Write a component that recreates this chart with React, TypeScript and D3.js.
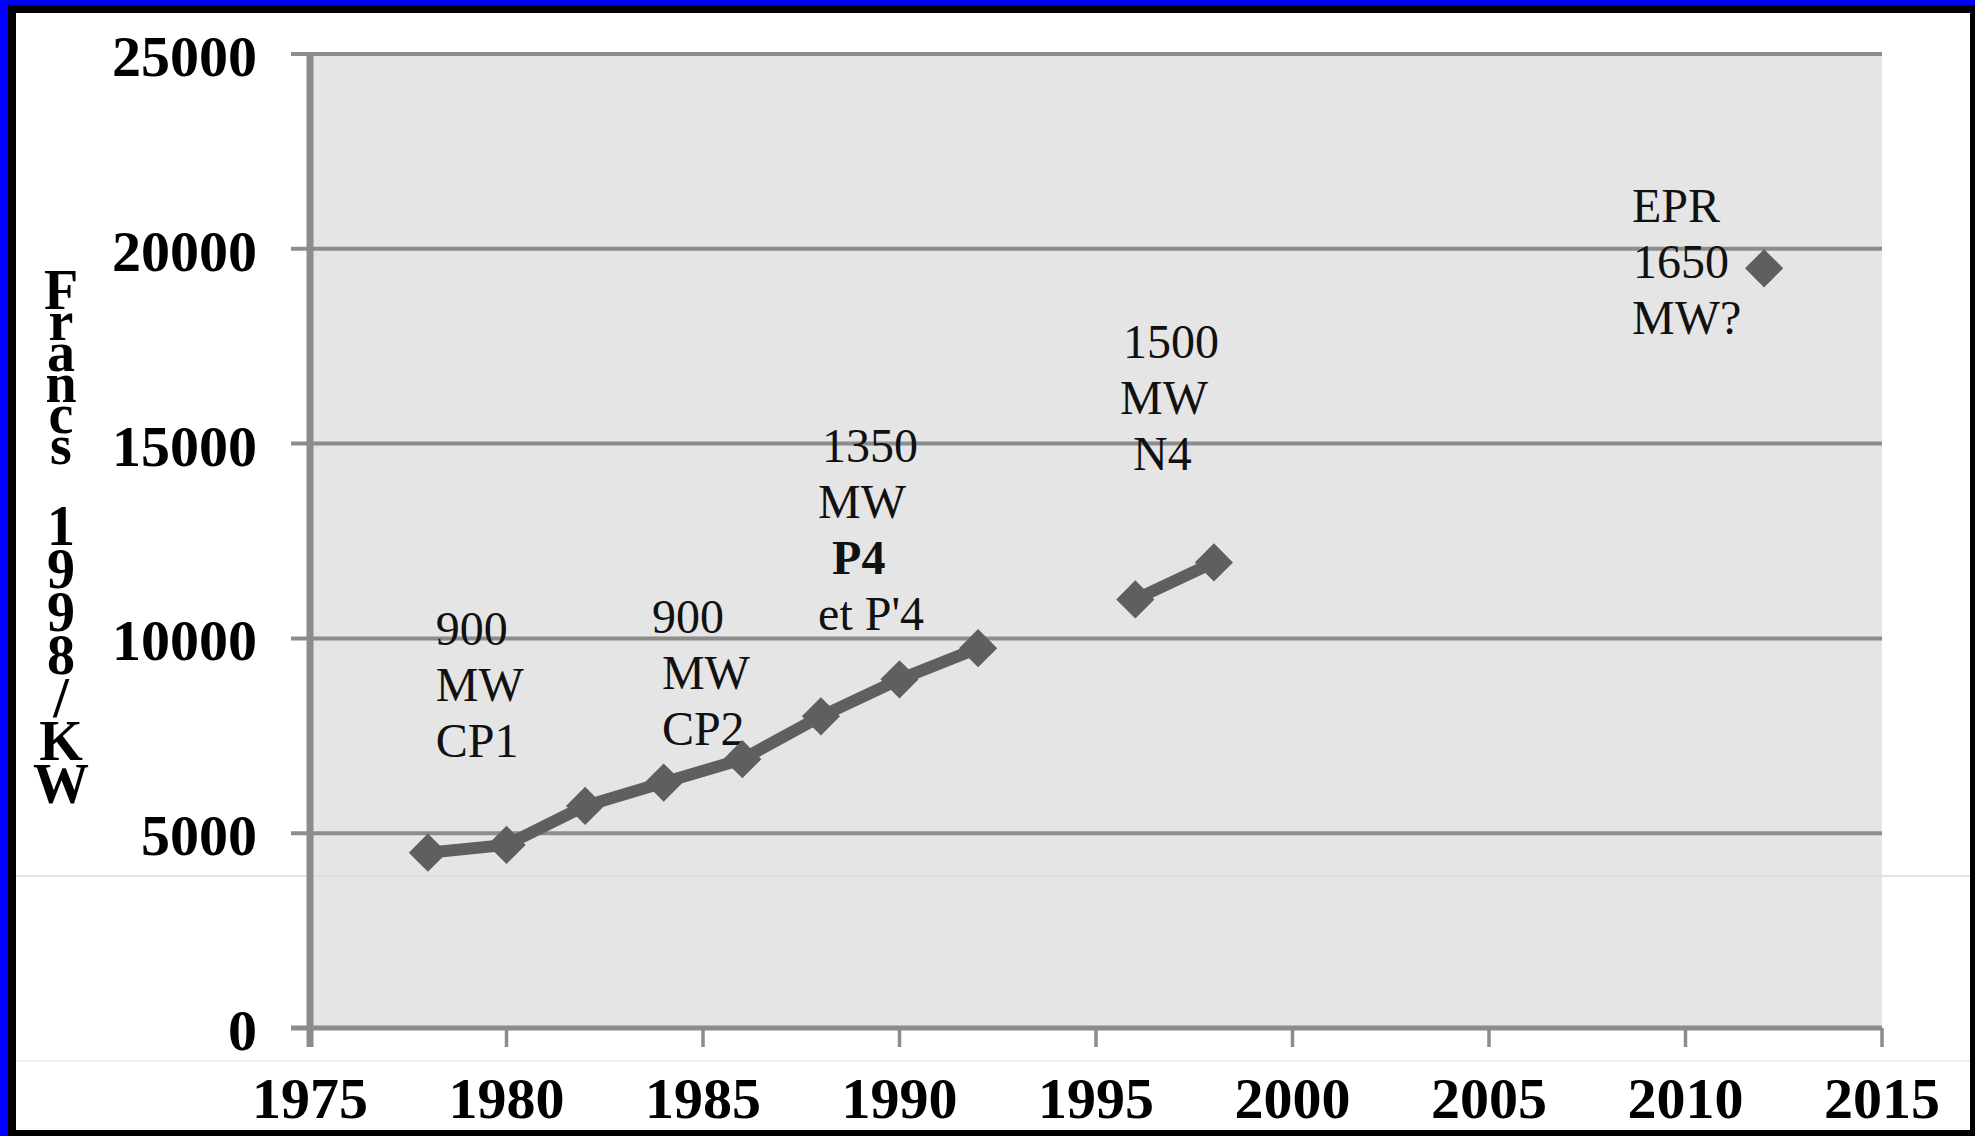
import React from "react";
import * as d3 from "d3";

const years = [1978, 1980, 1982, 1984, 1986, 1988, 1990, 1992, 1994, 1996, 1998, 2000, 2012];
const costs: (number | null)[] = [4500, 4700, 5700, 6300, 6900, 8000, 8950, 9750, null, 11000, 11950, null, 19500];
const yTicks = [0, 5000, 10000, 15000, 20000, 25000];
const xTicks = [1975, 1980, 1985, 1990, 1995, 2000, 2005, 2010, 2015];
const yTitle = "Francs 1998/KW";

type Line = { t: string; dx: number; bold?: boolean };
const annotations: { year: number; value: number; lines: Line[] }[] = [
  { year: 1978.2, value: 9830, lines: [{ t: "900", dx: 0 }, { t: "MW", dx: 0 }, { t: "CP1", dx: 0 }] },
  { year: 1983.7, value: 10140, lines: [{ t: "900", dx: 0 }, { t: "MW", dx: 10 }, { t: "CP2", dx: 10 }] },
  { year: 1988.03, value: 14530, lines: [{ t: "1350", dx: 0 }, { t: "MW", dx: -4 }, { t: "P4", dx: 10, bold: true }, { t: "et P'4", dx: -4 }] },
  { year: 1995.69, value: 17200, lines: [{ t: "1500", dx: 0 }, { t: "MW", dx: -3 }, { t: "N4", dx: 10 }] },
  { year: 2008.64, value: 20690, lines: [{ t: "EPR", dx: 0 }, { t: "1650", dx: 1 }, { t: "MW?", dx: 0 }] },
];

const W = 1975;
const H = 1136;
const serif = "'Liberation Serif', 'Times New Roman', serif";

export default function App() {
  const x = d3.scaleLinear().domain([1975, 2015]).range([310, 1882]);
  const y = d3.scaleLinear().domain([0, 25000]).range([1028, 54]);
  const data = years.map((yr, i) => ({ yr, v: costs[i] }));
  const line = d3
    .line<{ yr: number; v: number | null }>()
    .defined((d) => d.v != null)
    .x((d) => x(d.yr))
    .y((d) => y(d.v as number));
  const diamond = d3.symbol().type(d3.symbolSquare).size(730)();
  const gridColor = "#8c8c8c";

  // y title layout: stacked chars
  let cy = 309;
  const titleChars: { c: string; y: number }[] = [];
  yTitle.split("").forEach((c, i) => {
    if (i > 0) {
      if (c === " ") { cy += 38; return; }
      cy += /[a-z]/.test(c) ? 31 : 43;
    }
    titleChars.push({ c, y: cy });
  });

  return (
    <svg width={W} height={H} style={{ position: "absolute", left: 0, top: 0, display: "block" }}>
      <rect x={0} y={0} width={W} height={H} fill="#0000ff" />
      <rect x={8} y={5} width={W - 8} height={H - 5} fill="#000" />
      <rect x={16} y={13} width={1954} height={1117} fill="#fff" />
      <line x1={16} x2={1970} y1={1061} y2={1061} stroke="#e4e4fa" strokeWidth={1.5} />
      <rect x={x(1975)} y={y(25000)} width={x(2015) - x(1975)} height={y(0) - y(25000)} fill="#e5e5e5" />
      <line x1={16} x2={1970} y1={876} y2={876} stroke="#d9d8ee" strokeWidth={1.5} />
      {yTicks.filter((t) => t > 0).map((t) => (
        <line key={"g" + t} x1={291} x2={x(2015)} y1={y(t)} y2={y(t)} stroke={gridColor} strokeWidth={4} />
      ))}
      <line x1={291} x2={x(2015)} y1={y(0)} y2={y(0)} stroke={gridColor} strokeWidth={5} />
      <line x1={x(1975)} x2={x(1975)} y1={y(25000)} y2={1047} stroke={gridColor} strokeWidth={7} />
      {xTicks.map((t) => (
        <line key={"xt" + t} x1={x(t)} x2={x(t)} y1={y(0)} y2={1047} stroke={gridColor} strokeWidth={3.5} />
      ))}
      {yTicks.map((t) => (
        <text key={"yl" + t} x={257} y={y(t) + 22} textAnchor="end" fontFamily={serif} fontWeight="bold" fontSize={58} fill="#000">
          {t}
        </text>
      ))}
      {xTicks.map((t) => (
        <text key={"xl" + t} x={x(t)} y={1118} textAnchor="middle" fontFamily={serif} fontWeight="bold" fontSize={58} fill="#000">
          {t}
        </text>
      ))}
      {titleChars.map((d, i) => (
        <text key={"tc" + i} x={61} y={d.y} textAnchor="middle" fontFamily={serif} fontWeight="bold" fontSize={56} fill="#000">
          {d.c}
        </text>
      ))}
      {annotations.map((a, i) => (
        <g key={"an" + i}>
          {a.lines.map((l, j) => (
            <text key={j} x={x(a.year) + l.dx} y={y(a.value) + j * 56} fontFamily={serif} fontWeight={l.bold ? "bold" : "normal"} fontSize={48} fill="#111">
              {l.t}
            </text>
          ))}
        </g>
      ))}
      <path d={line(data) || ""} fill="none" stroke="#5f5f5f" strokeWidth={12} strokeLinejoin="round" />
      {data.filter((d) => d.v != null).map((d) => (
        <path key={"m" + d.yr} d={diamond || ""} transform={`translate(${x(d.yr)},${y(d.v as number)}) rotate(45)`} fill="#5f5f5f" />
      ))}
    </svg>
  );
}
